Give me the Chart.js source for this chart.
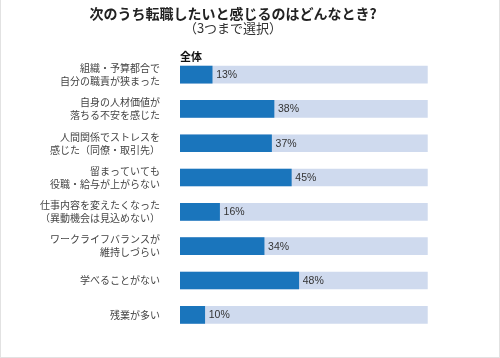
<!DOCTYPE html>
<html lang="ja">
<head>
<meta charset="utf-8">
<title>転職したいと感じるとき</title>
<script src="https://cdn.jsdelivr.net/npm/chart.js@4.4.1/dist/chart.umd.min.js"></script>
<style>
    html, body { margin: 0; padding: 0; background: #fff; }
    #wrap {
        width: 500px;
        height: 358px;
        box-sizing: border-box;
        border: 1px solid #e2e2e2;
        border-top: none;
        position: relative;
    }
</style>
</head>
<body>
<div id="wrap"><canvas id="chart"></canvas></div>
<script>
const categories = [
    ['組織・予算都合で', '自分の職責が狭まった'],
    ['自身の人材価値が', '落ちる不安を感じた'],
    ['人間関係でストレスを', '感じた（同僚・取引先）'],
    ['留まっていても', '役職・給与が上がらない'],
    ['仕事内容を変えたくなった', '（異動機会は見込めない）'],
    ['ワークライフバランスが', '維持しづらい'],
    '学べることがない',
    '残業が多い'
];
const values = [13, 38, 37, 45, 16, 34, 48, 10];
const fullTrack = categories.map(() => 100);

const FONT = '"Noto Sans CJK JP", "Noto Sans", sans-serif';

// value labels after each bar + the "全体" heading
const labelPlugin = {
    id: 'barLabels',
    afterDatasetsDraw(chart) {
        const ctx = chart.ctx;
        const meta = chart.getDatasetMeta(0);
        ctx.save();
        ctx.fillStyle = '#333';
        ctx.font = '10.5px "Liberation Sans", Arial, sans-serif';
        ctx.textBaseline = 'middle';
        ctx.textAlign = 'left';
        meta.data.forEach((bar, i) => {
            ctx.fillText(values[i] + '%', bar.x + 4, bar.y + 0.5);
        });

        ctx.fillStyle = '#111';
        ctx.font = 'bold 11px ' + FONT;
        ctx.fillText('全体', chart.chartArea.left, 57);
        ctx.restore();
    }
};

new Chart(document.getElementById('chart'), {
    type: 'bar',
    data: {
        labels: categories,
        datasets: [
            {
                data: values,
                backgroundColor: '#1a75bc',
                barThickness: 17,
                grouped: false
            },
            {
                data: fullTrack,
                backgroundColor: '#cfdaee',
                barThickness: 17,
                grouped: false
            }
        ]
    },
    options: {
        indexAxis: 'y',
        responsive: true,
        maintainAspectRatio: false,
        animation: false,
        layout: { padding: { left: 0, right: 34, top: 0, bottom: 3.5 } },
        scales: {
            x: {
                display: false,
                min: 0,
                max: 115.2
            },
            y: {
                afterFit(scale) { scale.width = 179; },
                grid: { display: false },
                border: { display: false },
                ticks: {
                    color: '#444',
                    padding: 12,
                    font: { family: FONT, size: 10, lineHeight: 1.3 }
                }
            }
        },
        plugins: {
            legend: { display: false },
            tooltip: { enabled: false },
            title: {
                display: true,
                text: '次のうち転職したいと感じるのはどんなとき?',
                color: '#222',
                font: { family: FONT, size: 14, weight: 'bold', lineHeight: 1.2 },
                padding: { top: 5, bottom: 0 }
            },
            subtitle: {
                display: true,
                text: '（3つまで選択）',
                color: '#333',
                font: { family: FONT, size: 13, lineHeight: 1.0 },
                padding: { top: 0, bottom: 22.6 }
            }
        }
    },
    plugins: [labelPlugin]
});
</script>
</body>
</html>
